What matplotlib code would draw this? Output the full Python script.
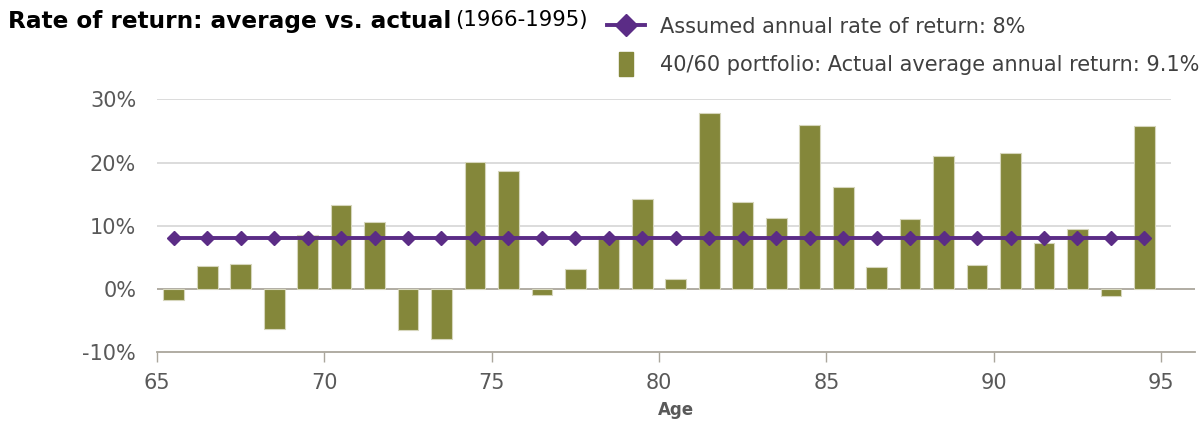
import numpy as np
import matplotlib.pyplot as plt
import matplotlib.patches as mpatches
from matplotlib.lines import Line2D
from matplotlib.legend_handler import HandlerPatch

# idade no meio de cada ano (1966-1995)
ages = np.arange(65.5, 95.5, 1.0)
actual_returns = [-1.8, 3.7, 3.9, -6.4, 8.6, 13.3, 10.6, -6.5, -8.0, 20.1,
                  18.7, -0.9, 3.2, 8.3, 14.3, 1.5, 27.9, 13.7, 11.3, 25.9,
                  16.2, 3.4, 11.1, 21.0, 3.8, 21.6, 7.2, 9.5, -1.1, 25.8]
assumed_rate = 8.0
x_ticks = [65, 70, 75, 80, 85, 90, 95]
y_ticks = [-10, 0, 10, 20, 30]

olive = "#84873a"
purple = "#5b2c86"
gray_txt = "#595959"

fig = plt.figure(figsize=(12.01, 4.21), dpi=100)
ax = fig.add_axes([0.1307, 0.1639, 0.864, 0.5998])

# grade horizontal
ax.hlines([10, 20, 30], 65, 95.3, color="#d9d9d9", lw=1.3, zorder=0)
ax.axhline(0, color="#aaa69c", lw=1.3, zorder=1)

# barras
ax.bar(ages, actual_returns, width=0.62, color=olive, edgecolor="#d6d6bc",
       linewidth=0.8, zorder=2)

# linha da taxa assumida
ax.plot(ages, [assumed_rate] * len(ages), color=purple, lw=2.8,
        marker="D", markersize=7, zorder=3)

ax.set_xlim(65, 96)
ax.set_ylim(-10, 30)
ax.set_xticks(x_ticks)
ax.set_yticks(y_ticks)
ax.set_yticklabels([f"{v}%" for v in y_ticks])

for s in ["top", "right", "left"]:
    ax.spines[s].set_visible(False)
ax.spines["bottom"].set_color("#aaa69c")
ax.spines["bottom"].set_linewidth(1.3)
ax.tick_params(axis="x", length=7, width=1, color="#aaa69c",
               labelsize=15, labelcolor=gray_txt, pad=8)
ax.tick_params(axis="y", length=0, labelsize=15, labelcolor=gray_txt, pad=15)
ax.set_xlabel("Age", fontsize=12, fontweight="bold", color=gray_txt, labelpad=6)

# titulo
fig.text(0.007, 0.95, "Rate of return: average vs. actual", fontsize=16.7,
         fontweight="bold", ha="left", va="center")
fig.text(0.379, 0.952, "(1966-1995)", fontsize=15.3, ha="left", va="center")


def _narrow_bar(legend, orig_handle, xdescent, ydescent, width, height, fontsize):
    return mpatches.Rectangle((-xdescent + width * 0.32, -ydescent - height * 0.3),
                              width * 0.36, height * 1.6)


handles = [
    Line2D([], [], color=purple, lw=2.8, marker="D", markersize=11),
    mpatches.Patch(color=olive),
]
labels = ["Assumed annual rate of return: 8%",
          "40/60 portfolio: Actual average annual return: 9.1%"]
fig.legend(handles, labels, loc="upper left", bbox_to_anchor=(0.4913, 1.0),
           frameon=False, fontsize=15, handlelength=1.85, handletextpad=0.7,
           labelspacing=0.9, borderpad=0.3, labelcolor="#404040",
           handler_map={mpatches.Patch: HandlerPatch(patch_func=_narrow_bar)})

fig.savefig("out.png", dpi=100)
